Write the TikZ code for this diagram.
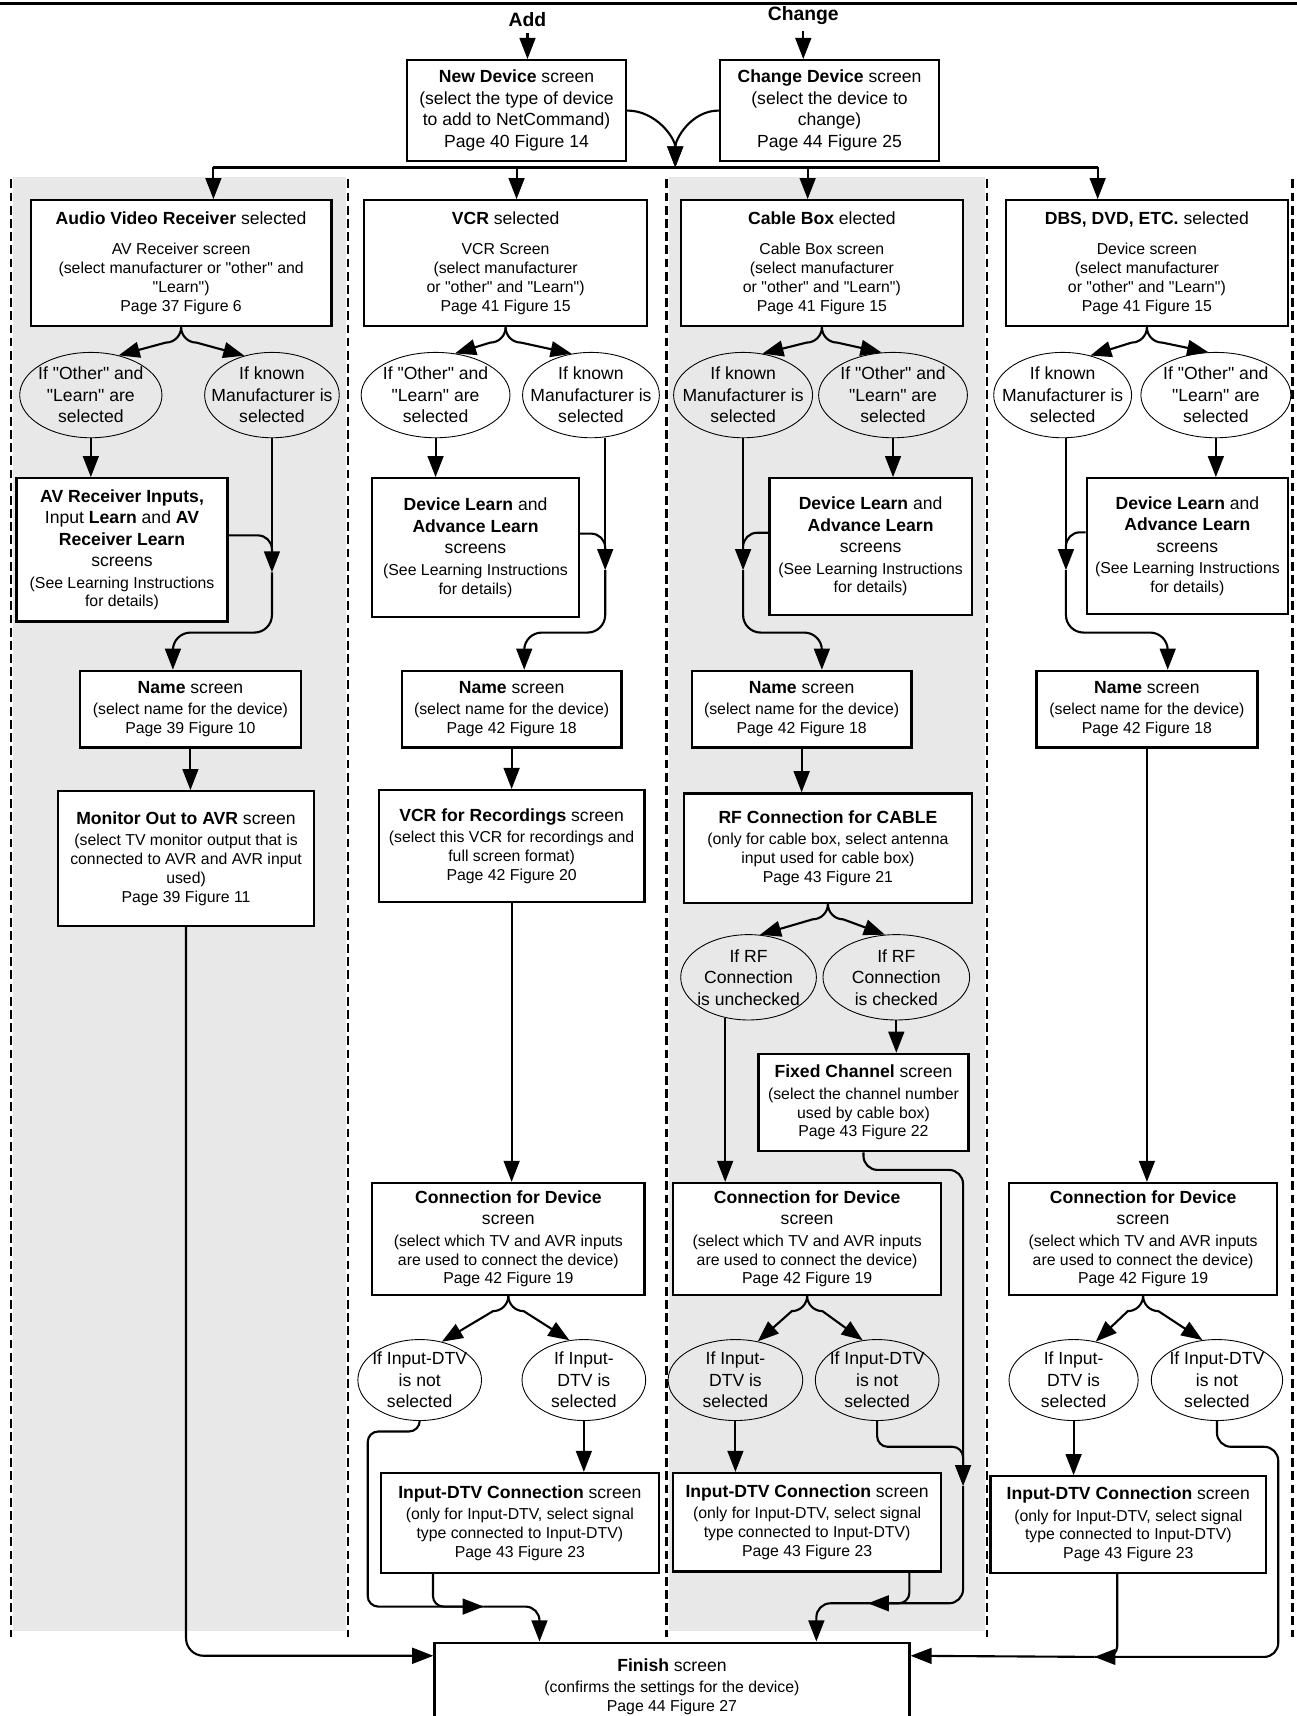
\documentclass[tikz,border=0pt]{standalone}
\usepackage{fontspec}
\setmainfont{Liberation Sans}
\usetikzlibrary{arrows.meta,shapes.geometric,calc}

\newcommand{\dtl}{\fontsize{9}{11}\selectfont}
\newcommand{\qt}{\textquotedbl}
\newcommand{\nl}{\\[-1.5pt]}

\tikzset{
  scr/.style 2 args={draw, line width=1.3pt, fill=white, align=center, inner sep=0pt,
    minimum width=#1*0.6226pt, minimum height=#2*0.6226pt},
  cond/.style 2 args={ellipse, draw, line width=0.5pt, align=center,
    inner xsep=-20pt, inner ysep=-14pt,
    minimum width=#1*0.6226pt, minimum height=#2*0.6226pt},
  ln/.style={line width=1.2pt},
  arr/.style={ln, -{Triangle[length=12pt,width=9pt]}},
  lane/.style={line width=1.2pt, dash pattern=on 5pt off 2.5pt},
  lbl/.style={font=\bfseries\fontsize{11}{13}\selectfont},
}

\begin{document}
\begin{tikzpicture}[x=0.6226pt, y=0.6226pt, font=\fontsize{10}{12.2}\selectfont]
\useasboundingbox (0,0) rectangle (1185,-1568);

% device lanes
\fill[black!9] (12,-162) rectangle (316,-1490);
\fill[black!9] (611,-162) rectangle (900,-1490);
\foreach \x in {10,318,609,902,1181}
  \draw[lane] (\x,-164) -- (\x,-1496);
\draw[line width=1.5pt] (0,-3) -- (1185,-3);

% entry screens
\node[lbl] (addlbl) at (482,-18) {Add};
\node[lbl] (chglbl) at (734,-14) {Change};
\node[scr={200}{92}] (newdev) at (472,-101) {\textbf{New Device} screen\\(select the type of device\\to add to NetCommand)\\Page 40 Figure 14};
\node[scr={200}{92}] (chgdev) at (758,-101) {\textbf{Change Device} screen\\(select the device to\\change)\\Page 44 Figure 25};
\draw[arr] (addlbl.south) -- (addlbl.south |- newdev.north);
\draw[arr] (chglbl.south) -- (chglbl.south |- chgdev.north);

\coordinate (bm) at (617,-153);
\draw[arr] (newdev.east) to[out=0,in=90] (bm);
\draw[arr] (chgdev.west) to[out=180,in=90] (bm);

\coordinate (bus1) at (195,-153);
\coordinate (bus2) at (472,-153);
\coordinate (bus3) at (738,-153);
\coordinate (bus4) at (1003,-153);
\draw[ln] (bus1) -- (bus4);

% device selected
\node[scr={275}{115}] (avrsel) at (165.5,-240.5) {\textbf{Audio Video Receiver} selected\\[5pt]\dtl AV Receiver screen\nl\dtl (select manufacturer or \qt other\qt{} and\nl\dtl \qt Learn\qt)\nl\dtl Page 37 Figure 6};
\node[scr={259}{115}] (vcrsel) at (462,-240.5) {\textbf{VCR} selected\\[5pt]\dtl VCR Screen\nl\dtl (select manufacturer\nl\dtl or \qt other\qt{} and \qt Learn\qt)\nl\dtl Page 41 Figure 15};
\node[scr={258}{115}] (cabsel) at (751,-240.5) {\textbf{Cable Box} elected\\[5pt]\dtl Cable Box screen\nl\dtl (select manufacturer\nl\dtl or \qt other\qt{} and \qt Learn\qt)\nl\dtl Page 41 Figure 15};
\node[scr={258}{115}] (dbssel) at (1048,-240.5) {\textbf{DBS, DVD, ETC.} selected\\[5pt]\dtl Device screen\nl\dtl (select manufacturer\nl\dtl or \qt other\qt{} and \qt Learn\qt)\nl\dtl Page 41 Figure 15};
\foreach \b/\n in {bus1/avrsel,bus2/vcrsel,bus3/cabsel,bus4/dbssel}
  \draw[arr] (\b) -- (\b |- \n.north);

% manufacturer choice
\node[cond={130}{78}] (c1L) at (83,-361) {If \qt Other\qt{} and\\\qt Learn\qt{} are\\selected};
\node[cond={123}{78}] (c1R) at (248.5,-361) {If known\\Manufacturer is\\selected};
\node[cond={136}{78}] (c2L) at (398,-361) {If \qt Other\qt{} and\\\qt Learn\qt{} are\\selected};
\node[cond={125}{78}] (c2R) at (540,-361) {If known\\Manufacturer is\\selected};
\node[cond={127}{78}] (c3L) at (679,-361) {If known\\Manufacturer is\\selected};
\node[cond={136}{78}] (c3R) at (816,-361) {If \qt Other\qt{} and\\\qt Learn\qt{} are\\selected};
\node[cond={126}{78}] (c4L) at (971,-361) {If known\\Manufacturer is\\selected};
\node[cond={137}{78}] (c4R) at (1111,-361) {If \qt Other\qt{} and\\\qt Learn\qt{} are\\selected};

% learn screens
\node[scr={193}{131}] (avrlrn) at (111.5,-502.5) {\textbf{AV Receiver Inputs,}\\Input \textbf{Learn} and \textbf{AV}\\\textbf{Receiver Learn}\\screens\\\dtl (See Learning Instructions\nl\dtl for details)};
\node[scr={189}{127}] (dl2) at (434.5,-500.5) {\textbf{Device Learn} and\\\textbf{Advance Learn}\\screens\\\dtl (See Learning Instructions\nl\dtl for details)};
\node[scr={185}{125}] (dl3) at (795.5,-499.5) {\textbf{Device Learn} and\\\textbf{Advance Learn}\\screens\\\dtl (See Learning Instructions\nl\dtl for details)};
\node[scr={184}{124}] (dl4) at (1085,-499) {\textbf{Device Learn} and\\\textbf{Advance Learn}\\screens\\\dtl (See Learning Instructions\nl\dtl for details)};

% name screens
\node[scr={202}{70}] (nm1) at (174,-648) {\textbf{Name} screen\\\dtl (select name for the device)\nl\dtl Page 39 Figure 10};
\node[scr={201}{70}] (nm2) at (467.5,-648) {\textbf{Name} screen\\\dtl (select name for the device)\nl\dtl Page 42 Figure 18};
\node[scr={201}{70}] (nm3) at (732.5,-648) {\textbf{Name} screen\\\dtl (select name for the device)\nl\dtl Page 42 Figure 18};
\node[scr={202}{70}] (nm4) at (1048,-648) {\textbf{Name} screen\\\dtl (select name for the device)\nl\dtl Page 42 Figure 18};

\node[scr={234}{123}] (mon1) at (170,-784.5) {\textbf{Monitor Out to AVR} screen\\\dtl (select TV monitor output that is\nl\dtl connected to AVR and AVR input\nl\dtl used)\nl\dtl Page 39 Figure 11};
\node[scr={243}{102}] (rec2) at (467.5,-773) {\textbf{VCR for Recordings} screen\\\dtl (select this VCR for recordings and\nl\dtl full screen format)\nl\dtl Page 42 Figure 20};
\node[scr={263}{100}] (rf3) at (756.5,-775) {\textbf{RF Connection for CABLE}\\\dtl (only for cable box, select antenna\nl\dtl input used for cable box)\nl\dtl Page 43 Figure 21};

\node[cond={124}{78}] (rfL) at (684,-893) {If RF\\Connection\\is unchecked};
\node[cond={134}{78}] (rfR) at (819,-893) {If RF\\Connection\\is checked};
\node[scr={192}{89}] (fix3) at (789,-1007.5) {\textbf{Fixed Channel} screen\\\dtl (select the channel number\nl\dtl used by cable box)\nl\dtl Page 43 Figure 22};

% connection screens
\node[scr={249}{102}] (con2) at (464.5,-1132) {\textbf{Connection for Device}\\screen\\\dtl (select which TV and AVR inputs\nl\dtl are used to connect the device)\nl\dtl Page 42 Figure 19};
\node[scr={245}{102}] (con3) at (737.5,-1132) {\textbf{Connection for Device}\\screen\\\dtl (select which TV and AVR inputs\nl\dtl are used to connect the device)\nl\dtl Page 42 Figure 19};
\node[scr={245}{102}] (con4) at (1044.5,-1132) {\textbf{Connection for Device}\\screen\\\dtl (select which TV and AVR inputs\nl\dtl are used to connect the device)\nl\dtl Page 42 Figure 19};

\node[cond={113}{74}] (i2L) at (383.5,-1261) {If Input-DTV\\is not\\selected};
\node[cond={113}{74}] (i2R) at (533.5,-1261) {If Input-\\DTV is\\selected};
\node[cond={123}{74}] (i3L) at (672,-1261) {If Input-\\DTV is\\selected};
\node[cond={113}{74}] (i3R) at (801.5,-1261) {If Input-DTV\\is not\\selected};
\node[cond={118}{74}] (i4L) at (981,-1261) {If Input-\\DTV is\\selected};
\node[cond={120}{74}] (i4R) at (1112,-1261) {If Input-DTV\\is not\\selected};

\node[scr={254}{91}] (in2) at (475,-1391.5) {\textbf{Input-DTV Connection} screen\\\dtl (only for Input-DTV, select signal\nl\dtl type connected to Input-DTV)\nl\dtl Page 43 Figure 23};
\node[scr={245}{90}] (in3) at (737.5,-1391) {\textbf{Input-DTV Connection} screen\\\dtl (only for Input-DTV, select signal\nl\dtl type connected to Input-DTV)\nl\dtl Page 43 Figure 23};
\node[scr={252}{88}] (in4) at (1031,-1393) {\textbf{Input-DTV Connection} screen\\\dtl (only for Input-DTV, select signal\nl\dtl type connected to Input-DTV)\nl\dtl Page 43 Figure 23};

\node[scr={434}{80}] (fin) at (614,-1541) {\textbf{Finish} screen\\\dtl (confirms the settings for the device)\nl\dtl Page 44 Figure 27};

% forks
\foreach \a/\l/\r/\p/\q in {avrsel/c1L/c1R/55/125, vcrsel/c2L/c2R/65/115,
    cabsel/c3L/c3R/65/105, dbssel/c4L/c4R/55/100, rf3/rfL/rfR/75/105,
    con2/i2L/i2R/60/110, con3/i3L/i3R/60/110, con4/i4L/i4R/60/110}{
  \draw[arr] (\a.south) to[out=-90,in=0] ++(-14,-14) -- (\l.\p);
  \draw[arr] (\a.south) to[out=-90,in=180] ++(14,-14) -- (\r.\q);
}

% learn branch
\draw[arr] (c1L.south) -- (c1L.south |- avrlrn.north);
\draw[arr] (c2L.south) -- (c2L.south |- dl2.north);
\draw[arr] (c3R.south) -- (c3R.south |- dl3.north);
\draw[arr] (c4R.south) -- (c4R.south |- dl4.north);

% known branch joins learn branch
\coordinate (m1) at (248.5,-523);
\coordinate (m2) at (553,-521);
\coordinate (m3) at (679,-521);
\coordinate (m4) at (974,-521);
\coordinate (j1) at (158,-578);
\coordinate (j2) at (479,-578);
\coordinate (j3) at (751,-578);
\coordinate (j4) at (1067,-578);
\draw[arr] (c1R.south -| m1) -- (m1);
\draw[arr] (c2R.south -| m2) -- (m2);
\draw[arr] (c3L.south -| m3) -- (m3);
\draw[arr] (c4L.south -| m4) -- (m4);
\draw[ln, rounded corners=8pt] ($(avrlrn.north east)!0.4!(avrlrn.south east)$) -| ($(m1)+(0,12)$);
\draw[ln, rounded corners=8pt] ($(dl2.north east)!0.4!(dl2.south east)$) -| ($(m2)+(0,12)$);
\draw[ln, rounded corners=8pt] ($(dl3.north west)!0.4!(dl3.south west)$) -| ($(m3)+(0,12)$);
\draw[ln, rounded corners=8pt] ($(dl4.north west)!0.4!(dl4.south west)$) -| ($(m4)+(0,12)$);
\draw[arr, rounded corners=10pt] (m1) |- (j1) -- (j1 |- nm1.north);
\draw[arr, rounded corners=10pt] (m2) |- (j2) -- (j2 |- nm2.north);
\draw[arr, rounded corners=10pt] (m3) |- (j3) -- (j3 |- nm3.north);
\draw[arr, rounded corners=10pt] (m4) |- (j4) -- (j4 |- nm4.north);

% name to next
\draw[arr] (nm1.south) -- (nm1.south |- mon1.north);
\draw[arr] (nm2.south) -- (nm2.south |- rec2.north);
\draw[arr] (nm3.south) -- (nm3.south |- rf3.north);
\draw[arr] (nm4.south) -- (nm4.south |- con4.north);
\draw[arr] (rec2.south) -- (rec2.south |- con2.north);
\draw[arr] (rfL.240) -- (rfL.240 |- con3.north);
\draw[arr] (rfR.south) -- (rfR.south |- fix3.north);

% input-dtv
\draw[arr] (i2R.south) -- (i2R.south |- in2.north);
\draw[arr] (i3L.south) -- (i3L.south |- in3.north);
\draw[arr] (i4L.south) -- (i4L.south |- in4.north);

% to finish
\coordinate (fl) at ($(fin.north west)+(0,-13)$);
\coordinate (fr) at ($(fin.north east)+(0,-13)$);
\coordinate (f2) at ($(fin.north west)+(97,0)$);
\coordinate (f3) at ($(fin.north west)+(350,0)$);
\coordinate (b2) at (442,-1468);
\coordinate (k3) at (880,-1358);
\coordinate (b3) at (793,-1465);
\coordinate (b4) at (1000,-1514);

\draw[arr, rounded corners=10pt] (mon1.south) |- (fl);

\draw[arr, rounded corners=6pt] (i2L.south) |- (336,-1308) |- (b2);
\draw[ln, rounded corners=6pt] ($(in2.south west)!0.19!(in2.south east)$) |- (b2);
\draw[arr, rounded corners=8pt] (b2) -| (f2);

\draw[arr, rounded corners=8pt] (fix3.south) |- (k3 |- 0,-1069) -- (k3);
\draw[ln, rounded corners=6pt] (i3R.south) |- (k3 |- 0,-1322) -- ($(k3)+(0,16)$);
\draw[arr, rounded corners=8pt] (k3) |- (b3);
\draw[ln, rounded corners=6pt] ($(in3.south west)!0.878!(in3.south east)$) |- (b3);
\draw[arr, rounded corners=8pt] (b3) -| (f3);

\draw[arr, rounded corners=8pt] (i4R.south) |- (1168,-1322) |- (b4);
\draw[ln, rounded corners=6pt] ($(in4.south west)!0.46!(in4.south east)$) |- (b4);
\draw[arr] (b4) -- (fr);
\end{tikzpicture}
\end{document}
